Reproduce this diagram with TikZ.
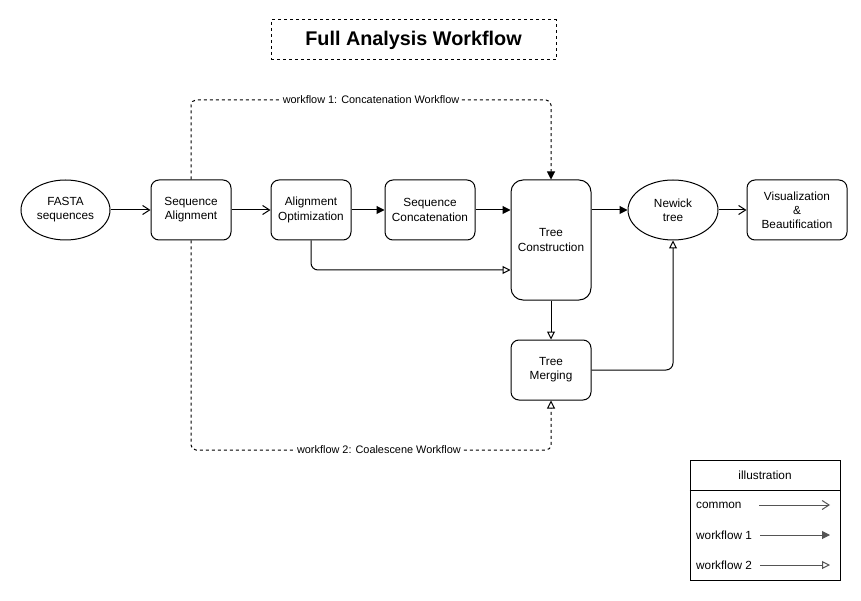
\documentclass[tikz,border=0pt]{standalone}
\usepackage{fontspec}
\setmainfont{Liberation Sans}
\usetikzlibrary{arrows.meta,shapes.geometric}
\definecolor{legcol}{HTML}{555555}
\tikzset{
  box/.style={draw, rounded corners=8pt, line width=1pt, minimum width=80pt, minimum height=60pt, inner sep=0pt, align=center, font=\fontsize{11.8}{14.2}\selectfont},
  oval/.style={draw, ellipse, line width=1pt, minimum width=89pt, minimum height=60pt, inner sep=0pt, align=center, font=\fontsize{11.8}{14.2}\selectfont},
  conn/.style={line width=1pt},
  common/.style={conn, -{Straight Barb[length=7pt,width=9pt,line width=1pt]}},
  wfone/.style={conn, -{Triangle[length=8pt,width=8pt]}},
  wftwo/.style={conn, -{Triangle[open,length=8pt,width=8pt,fill=white,line width=1pt]}},
  dashsty/.style={dash pattern=on 3pt off 3pt},
  lbl/.style={fill=white, inner sep=1.5pt, font=\fontsize{10.9}{13}\selectfont},
  legtxt/.style={anchor=west, inner sep=0pt, font=\fontsize{11.8}{14}\selectfont},
}
\begin{document}
\begin{tikzpicture}[x=1pt,y=-1pt]
\useasboundingbox (0,0) rectangle (861,601);
% title
\node[draw, dashsty, line width=1pt, minimum width=285pt, minimum height=40pt, inner sep=0pt, font=\fontsize{19.8}{22}\selectfont\bfseries] (title) at (413.5,40) {Full Analysis Workflow};
% nodes
\node[oval] (fasta) at (65.5,210) {FASTA\\sequences};
\node[box] (align) at (191,210) {Sequence\\Alignment};
\node[box] (opt) at (311,210) {Alignment\\Optimization};
\node[box, minimum width=90pt] (concat) at (430,210) {Sequence\\Concatenation};
\node[box, rounded corners=12pt, minimum height=120pt] (treec) at (551,240) {Tree\\Construction};
\node[oval, minimum width=90pt] (newick) at (673,210) {Newick\\tree};
\node[box, minimum width=100pt] (vis) at (797,210) {Visualization\\\&\\Beautification};
\node[box] (merge) at (551,370) {Tree\\Merging};
% edges
\draw[common] (fasta) -- (align);
\draw[common] (align) -- (opt);
\draw[wfone] (opt) -- (concat);
\draw[wfone] (concat.east) -- (concat.east -| treec.west);
\draw[wfone] (newick.west -| treec.east) -- (newick.west);
\draw[common] (newick) -- (vis);
\draw[wftwo, rounded corners=7pt] (opt.south) |- ([yshift=-30pt]treec.west);
\draw[wftwo] (treec) -- (merge);
\draw[wftwo, rounded corners=7pt] (merge.east) -| (newick.south);
\draw[wfone, dashsty, rounded corners=5pt] (align.north) -- (191,100) -- node[lbl, pos=0.5]{workflow 1: Concatenation Workflow} (551,100) -- (treec.north);
\draw[wftwo, dashsty, rounded corners=5pt] (align.south) -- (191,450) -- node[lbl, pos=0.522]{workflow 2: Coalescene Workflow} (551,450) -- (merge.south);
% legend
\node[draw, line width=1pt, minimum width=150pt, minimum height=120pt, inner sep=0pt] (legend) at (765,520) {};
\draw[line width=1pt] (legend.west |- 0,490) -- (legend.east |- 0,490);
\node[inner sep=0pt, font=\fontsize{11.8}{14}\selectfont] (legtitle) at (765,475) {illustration};
\node[legtxt] (lcommon) at (696,505) {common};
\node[legtxt] (lwone) at (696,535) {workflow 1};
\node[legtxt] (lwtwo) at (696,565) {workflow 2};
\coordinate (a1) at (759,505); \coordinate (b1) at (830,505);
\coordinate (a2) at (760,535); \coordinate (b2) at (830,535);
\coordinate (a3) at (760,565); \coordinate (b3) at (830,565);
\draw[common, legcol] (a1) -- (b1);
\draw[wfone, legcol] (a2) -- (b2);
\draw[wftwo, legcol] (a3) -- (b3);
\end{tikzpicture}
\end{document}
